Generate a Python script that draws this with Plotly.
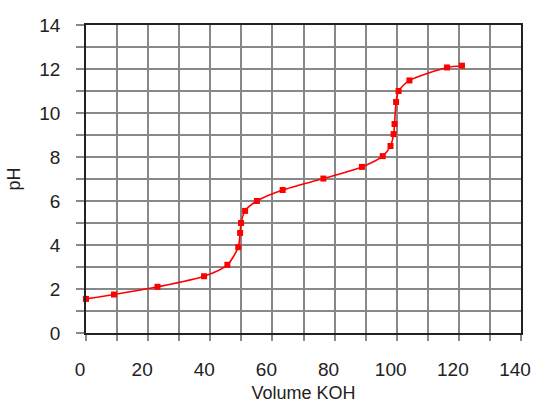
import plotly.graph_objects as go

volume_koh = [0, 9, 23, 38, 45.5, 49, 49.6, 49.9, 51.2, 55, 63.3, 76.4, 88.8,
              95.5, 98, 99, 99.3, 99.8, 100.6, 104.1, 116.2, 121]
ph_values = [1.55, 1.75, 2.1, 2.58, 3.1, 3.9, 4.55, 5.0, 5.55, 6.0, 6.5, 7.02,
             7.55, 8.04, 8.5, 9.04, 9.5, 10.5, 11.0, 11.48, 12.07, 12.15]

x_tickvals = list(range(0, 141, 10))
x_ticktext = [str(v) if v % 20 == 0 else "" for v in x_tickvals]
y_tickvals = list(range(0, 15, 1))
y_ticktext = [str(v) if v % 2 == 0 else "" for v in y_tickvals]

fig = go.Figure()
fig.add_trace(go.Scatter(
    x=volume_koh, y=ph_values, mode="lines+markers",
    line=dict(color="#ff0000", width=1.6, shape="spline", smoothing=0.7),
    marker=dict(symbol="square", size=6, color="#ff0000"),
    showlegend=False, cliponaxis=False,
))

font = dict(family="Liberation Sans, Arial, sans-serif", size=19, color="#222")

fig.update_layout(
    width=534, height=406,
    margin=dict(l=86, r=13, t=25, b=73, autoexpand=False),
    paper_bgcolor="white", plot_bgcolor="white",
    font=font,
)
fig.update_xaxes(
    range=[0, 140], tickvals=x_tickvals, ticktext=x_ticktext,
    showgrid=True, gridcolor="#888888", gridwidth=1.5,
    showline=True, linecolor="#222", linewidth=1.5, mirror=True,
    ticks="outside", ticklen=6, tickcolor="#888888", tickwidth=1.5,
    ticklabelstandoff=12, ticklabelshift=-6, ticklabeloverflow="allow",
    zeroline=False, automargin=False,
    title=dict(text="Volume KOH", font=dict(size=18), standoff=8),
)
fig.update_yaxes(
    range=[0, 14], tickvals=y_tickvals, ticktext=y_ticktext,
    showgrid=True, gridcolor="#888888", gridwidth=1.5,
    showline=True, linecolor="#222", linewidth=1.5, mirror=True,
    ticks="outside", ticklen=8, tickcolor="#888888", tickwidth=1.5,
    ticklabelstandoff=12, ticklabeloverflow="allow",
    zeroline=False, automargin=False,
    title=dict(text="pH", font=dict(size=18), standoff=14),
)

fig.write_html(
    "out.html",
    config={"displayModeBar": False},
    post_script="document.body.style.margin='0';document.body.style.overflow='hidden';",
)
